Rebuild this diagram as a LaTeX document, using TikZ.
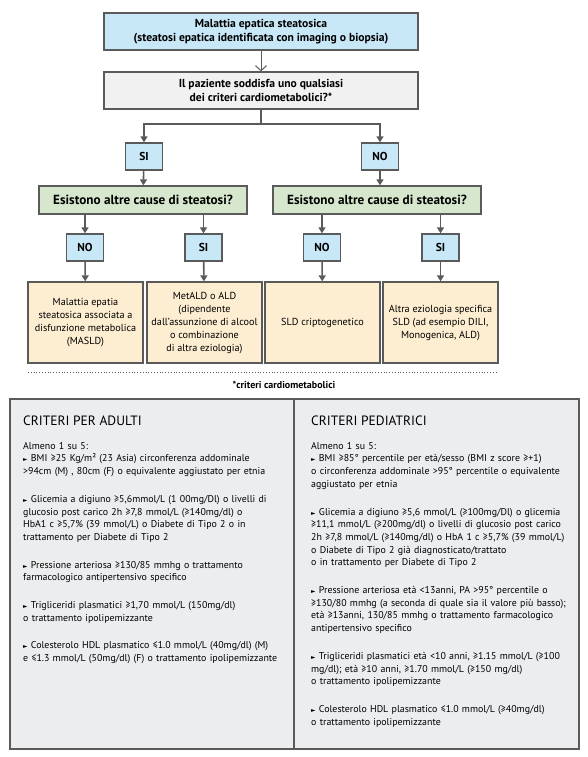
\documentclass[tikz,border=0pt]{standalone}
\usepackage{fontspec}
\setmainfont{PT Sans}
\newfontfamily\symfont{DejaVu Sans}
\usetikzlibrary{arrows.meta,positioning}
\definecolor{lineGray}{HTML}{5A5A5A}
\definecolor{boxBlue}{HTML}{C8E7F7}
\definecolor{boxGray}{HTML}{F1F1F1}
\definecolor{boxGreen}{HTML}{D6E7CD}
\definecolor{boxYellow}{HTML}{FDEDD1}
\definecolor{panelGray}{HTML}{ECEDEF}
\newcommand{\tri}{{\symfont\fontsize{5.8}{5.8}\selectfont ►}}
\begin{document}
\begin{tikzpicture}[x=1pt,y=-1pt]
        \tikzset{box/.style = {draw=lineGray,line width=1.3pt,align=center,inner sep=0pt}}
        \tikzset{header/.style = {box,minimum width=314pt,minimum height=37pt,font=\bfseries\fontsize{11.6}{14.5}\selectfont}}
        \tikzset{answer/.style = {box,fill=boxBlue,minimum width=37pt,minimum height=27pt,font=\bfseries\fontsize{11.5}{13}\selectfont}}
        \tikzset{cause/.style = {box,fill=boxGreen,minimum width=208pt,minimum height=28pt,font=\bfseries\fontsize{13.2}{15}\selectfont}}
        \tikzset{result/.style = {box,fill=boxYellow,minimum width=115pt,minimum height=81pt,font=\fontsize{10.2}{13}\selectfont}}
        \tikzset{panel/.style = {draw=lineGray,line width=1.5pt,fill=panelGray,anchor=north west,minimum height=350pt,inner sep=0pt}}
        \tikzset{criteria/.style = {anchor=north west,inner sep=0pt,text width=280pt,align=left,font=\fontsize{9.9}{12.7}\selectfont}}
        \tikzset{arrow/.style = {draw=lineGray,line width=1.6pt,-{Triangle[width=7pt,length=6pt]}}}
        \useasboundingbox (0,0) rectangle (587,757);
        % question boxes
        \node[header,fill=boxBlue] (disease) at (261,31.5) {Malattia epatica steatosica\\(steatosi epatica identificata con imaging o biopsia)};
        \node[header,fill=boxGray] (question) at (261,90.5) {Il paziente soddisfa uno qualsiasi\\dei criteri cardiometabolici?*};
        \coordinate (split) at (261,124);
        \node[answer] (yes) at (144,156.5) {SI};
        \node[answer] (no) at (380,156.5) {NO};
        % second level
        \node[cause] (causeL) at (143,200) {Esistono altre cause di steatosi?};
        \node[cause] (causeR) at (377,200) {Esistono altre cause di steatosi?};
        \node[answer] (noL) at (85,247.5) {NO};
        \node[answer] (siL) at (203.5,247.5) {SI};
        \node[answer] (noR) at (322,247.5) {NO};
        \node[answer] (siR) at (440.5,247.5) {SI};
        % outcomes
        \node[result] (masld) at (85.5,322.5) {Malattia epatia\\steatosica associata a\\disfunzione metabolica\\(MASLD)};
        \node[result] (metald) at (204.5,322.5) {MetALD o ALD\\(dipendente\\dall'assunzione di alcool\\o combinazione\\di altra eziologia)};
        \node[result] (cryptic) at (322.5,322.5) {SLD criptogenetico};
        \node[result] (other) at (440.5,322.5) {Altra eziologia specifica\\SLD (ad esempio DILI,\\Monogenica, ALD)};
        % connectors
        \draw[draw=lineGray,line width=1pt,-{Straight Barb[width=11pt,length=5pt]}] (disease) to (question);
        \draw[draw=lineGray,line width=1.6pt] (question) to (split);
        \draw[arrow] (split) -| (yes);
        \draw[arrow] (split) -| (no);
        \draw[arrow] (yes) to (causeL);
        \draw[arrow] (no) to (causeR.north -| no);
        \draw[arrow] (causeL.south -| noL) to (noL);
        \draw[arrow] (causeL.south -| siL) to (siL);
        \draw[arrow] (causeR.south -| noR) to (noR);
        \draw[arrow] (causeR.south -| siR) to (siR);
        \draw[arrow] (noL) to (masld);
        \draw[arrow] (siL) to (metald);
        \draw[arrow] (noR) to (cryptic);
        \draw[arrow] (siR) to (other);
        % footnote
        \coordinate (ruleL) at (28,372);
        \coordinate (ruleR) at (497,372);
        \draw[lineGray,line width=0.8pt,dotted] (ruleL) to (ruleR);
        \node[font=\bfseries\fontsize{10}{12}\selectfont] (note) at (284,385) {*criteri cardiometabolici};
        % criteria panels
        \node[panel,minimum width=284pt] (adults) at (9,398) {};
        \node[panel,minimum width=285pt] (children) at (293,398) {};
        \node[anchor=west,inner sep=0pt,font=\fontsize{13.5}{16}\selectfont] (adultsTitle) at (23,421) {CRITERI PER ADULTI};
        \node[anchor=west,inner sep=0pt,font=\fontsize{13.5}{16}\selectfont] (childrenTitle) at (311,421) {CRITERI PEDIATRICI};
        \node[criteria] (adultsText) at (23,442) {\setlength{\parskip}{15pt}Almeno 1 su 5:\\
        \tri{} BMI ≥25 Kg/m² (23 Asia) circonferenza addominale\\
        >94cm (M) , 80cm (F) o equivalente aggiustato per etnia\par
        \tri{} Glicemia a digiuno ≥5,6mmol/L (1 00mg/Dl) o livelli di\\
        glucosio post carico 2h ≥7,8 mmol/L (≥140mg/dl) o\\
        HbA1 c ≥5,7\% (39 mmol/L) o Diabete di Tipo 2 o in\\
        trattamento per Diabete di Tipo 2\par
        \tri{} Pressione arteriosa ≥130/85 mmhg o trattamento\\
        farmacologico antipertensivo specifico\par
        \tri{} Trigliceridi plasmatici ≥1,70 mmol/L (150mg/dl)\\
        o trattamento ipolipemizzante\par
        \tri{} Colesterolo HDL plasmatico ≤1.0 mmol/L (40mg/dl) (M)\\
        e ≤1.3 mmol/L (50mg/dl) (F) o trattamento ipolipemizzante};
        \node[criteria] (childrenText) at (311,442) {\setlength{\parskip}{15pt}Almeno 1 su 5:\\
        \tri{} BMI ≥85° percentile per età/sesso (BMI z score ≥+1)\\
        o circonferenza addominale >95° percentile o equivalente\\
        aggiustato per etnia\par
        \tri{} Glicemia a digiuno ≥5,6 mmol/L (≥100mg/Dl) o glicemia\\
        ≥11,1 mmol/L (≥200mg/dl) o livelli di glucosio post carico\\
        2h ≥7,8 mmol/L (≥140mg/dl) o HbA 1 c ≥5,7\% (39 mmol/L)\\
        o Diabete di Tipo 2 già diagnosticato/trattato\\
        o in trattamento per Diabete di Tipo 2\par
        \tri{} Pressione arteriosa età <13anni, PA >95° percentile o\\
        ≥130/80 mmhg (a seconda di quale sia il valore più basso);\\
        età ≥13anni, 130/85 mmhg o trattamento farmacologico\\
        antipertensivo specifico\par
        \tri{} Trigliceridi plasmatici età <10 anni, ≥1.15 mmol/L (≥100\\
        mg/dl); età ≥10 anni, ≥1.70 mmol/L (≥150 mg/dl)\\
        o trattamento ipolipemizzante\par
        \tri{} Colesterolo HDL plasmatico ≤1.0 mmol/L (≥40mg/dl)\\
        o trattamento ipolipemizzante};
\end{tikzpicture}
\end{document}
